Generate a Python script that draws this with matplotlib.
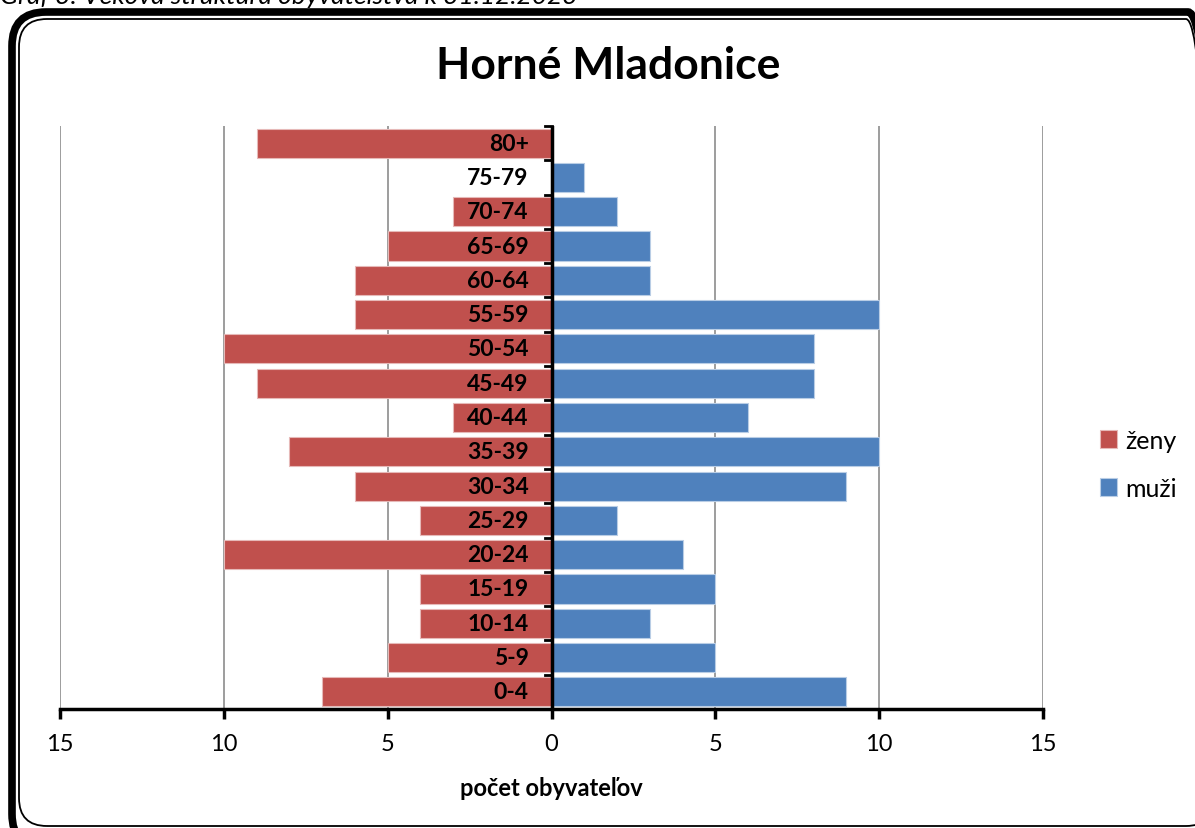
import numpy as np
import matplotlib
matplotlib.use("Agg")
import matplotlib.pyplot as plt
from matplotlib.patches import FancyBboxPatch
from matplotlib.transforms import IdentityTransform

## data
age_groups = ['0-4', '5-9', '10-14', '15-19', '20-24', '25-29', '30-34', '35-39',
              '40-44', '45-49', '50-54', '55-59', '60-64', '65-69', '70-74', '75-79', '80+']
zeny = [7, 5, 4, 4, 10, 4, 6, 8, 3, 9, 10, 6, 6, 5, 3, 0, 9]
muzi = [9, 5, 3, 5, 4, 2, 9, 10, 6, 8, 8, 10, 3, 3, 2, 1, 0]
x_ticks = [-15, -10, -5, 0, 5, 10, 15]

plt.rcParams['font.family'] = ['Lato', 'DejaVu Sans']

fig = plt.figure(figsize=(11.95, 8.29), dpi=100)
W, H = 1195, 829

# double rounded frame, drawn in pixels (origin bottom left)
outer = FancyBboxPatch((12, -20), 1210, 836,
                       boxstyle="round,pad=0,rounding_size=34",
                       transform=IdentityTransform(), fill=False, lw=5.5, ec='black')
inner = FancyBboxPatch((19, 2), 1195, 807,
                       boxstyle="round,pad=0,rounding_size=28",
                       transform=IdentityTransform(), fill=False, lw=1.3, ec='black')
fig.patches.extend([outer, inner])

# caption, cut off at the top like in the source
fig.text(0 / W, 1 - 4 / H, 'Graf 3: Veková štruktúra obyvateľstva k 31.12.2023',
         fontsize=19, style='italic', ha='left', va='baseline')

ax = fig.add_axes([60 / W, (H - 710) / H, (1043 - 60) / W, (710 - 127) / H])

y = np.arange(len(age_groups))
ax.barh(y, -np.array(zeny), height=0.85, color='#C0504D', edgecolor='#E6B9B8',
        lw=0.8, label='ženy', zorder=2)
ax.barh(y, muzi, height=0.85, color='#4F81BD', edgecolor='#B9CDE5',
        lw=0.8, label='muži', zorder=2)

ax.set_xlim(-15, 15)
ax.set_ylim(-0.5, len(age_groups) - 0.5)

for xv in x_ticks:
    if xv != 0:
        ax.axvline(xv, color='#8C8C8C', lw=1.2, zorder=1)

# age labels next to the axis
for i, lab in enumerate(age_groups):
    ax.text(-0.7, i, lab, ha='right', va='center', fontsize=16.5,
            fontweight='bold', zorder=4)

for s in ['top', 'right', 'left']:
    ax.spines[s].set_visible(False)
ax.spines['bottom'].set_linewidth(2.5)
ax.axvline(0, color='black', lw=2.5, zorder=3)

# ticks on the central axis at the category borders
for b in np.arange(-0.5, len(age_groups), 1):
    ax.plot([-0.2, 0], [b, b], color='black', lw=2, zorder=3, clip_on=False)

ax.set_yticks([])
ax.set_xticks(x_ticks)
ax.set_xticklabels([str(abs(v)) for v in x_ticks], fontsize=17)
ax.tick_params(axis='x', length=7, width=2.5, direction='out', pad=10)

ax.set_xlabel('počet obyvateľov', fontsize=17, fontweight='bold', labelpad=16)
fig.text(608 / W, 1 - 66 / H, 'Horné Mladonice', fontsize=32, fontweight='bold',
         ha='center', va='center')

ax.legend(loc='center left', bbox_to_anchor=(1.035, 0.42), frameon=False,
          fontsize=18, handlelength=0.7, handleheight=0.7, handletextpad=0.3,
          labelspacing=1.0)

fig.savefig('out.png', dpi=100)
